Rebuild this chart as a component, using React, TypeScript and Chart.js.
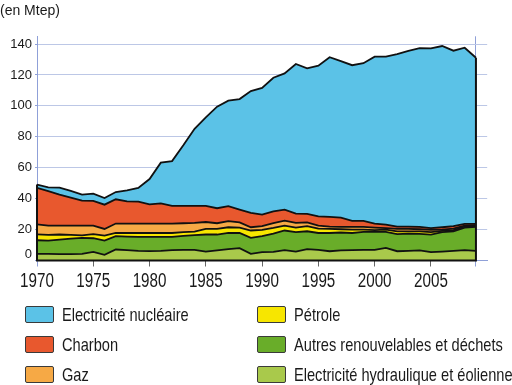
import React, { useEffect, useRef } from 'react';
import { Chart, registerables } from 'chart.js';

Chart.register(...registerables);

// ---- Data (Mtep) ----
const years = [
  1970, 1971, 1972, 1973, 1974, 1975, 1976, 1977, 1978, 1979,
  1980, 1981, 1982, 1983, 1984, 1985, 1986, 1987, 1988, 1989,
  1990, 1991, 1992, 1993, 1994, 1995, 1996, 1997, 1998, 1999,
  2000, 2001, 2002, 2003, 2004, 2005, 2006, 2007, 2008, 2009,
];

const hydraulique = [
  4.3, 4.3, 4.1, 4.1, 4.3, 5.6, 3.7, 7.1, 6.7, 6.2,
  6.0, 6.2, 6.7, 6.9, 6.9, 5.8, 6.5, 7.3, 8.0, 4.3,
  5.4, 5.6, 6.7, 5.8, 7.3, 6.9, 6.0, 6.5, 6.7, 6.9,
  6.9, 8.2, 6.0, 6.2, 6.5, 5.4, 5.8, 6.2, 6.7, 6.2,
];

const autresRenouvelables = [
  8.8, 8.6, 9.4, 10.1, 10.3, 8.8, 9.2, 8.6, 8.8, 9.1,
  9.3, 9.1, 8.6, 9.0, 9.5, 11.0, 10.3, 10.5, 9.8, 10.3,
  10.3, 11.8, 12.7, 12.5, 11.6, 10.9, 11.8, 11.6, 11.1, 11.6,
  11.6, 10.3, 11.0, 11.2, 10.7, 11.4, 12.5, 12.7, 14.6, 15.5,
];

const petrole = [
  3.8, 3.7, 3.3, 2.4, 1.7, 2.6, 3.2, 2.1, 2.3, 2.5,
  2.5, 2.5, 2.5, 2.4, 2.3, 3.6, 3.6, 3.7, 3.5, 4.8,
  4.1, 3.7, 3.2, 3.0, 3.3, 2.8, 2.6, 2.1, 2.2, 1.5,
  1.1, 1.5, 1.9, 1.5, 1.7, 1.5, 0.8, 0.7, 0.7, 0.5,
];

const gaz = [
  6.5, 6.0, 5.8, 6.0, 6.3, 5.6, 4.3, 6.1, 6.1, 6.1,
  6.1, 6.1, 6.1, 5.8, 5.6, 4.5, 3.7, 3.9, 3.4, 2.1,
  2.4, 3.0, 3.2, 3.0, 2.5, 2.0, 1.5, 1.5, 1.7, 1.7,
  1.7, 0.9, 1.5, 1.5, 1.3, 1.5, 0.9, 1.0, 0.6, 0.6,
];

const charbon = [
  23.6, 22.2, 20.0, 18.0, 16.1, 15.9, 15.7, 15.7, 14.4, 14.2,
  12.4, 13.1, 11.4, 11.2, 11.0, 10.4, 9.7, 9.7, 8.2, 9.3,
  7.5, 7.7, 7.1, 6.0, 5.4, 6.0, 6.3, 6.0, 3.9, 3.9,
  2.6, 2.3, 1.5, 1.5, 1.5, 1.1, 1.5, 1.6, 1.1, 0.9,
];

const nucleaire = [
  2.1, 2.5, 4.5, 4.4, 3.9, 4.7, 4.3, 4.7, 7.1, 8.8,
  16.4, 26.3, 29.0, 39.2, 49.9, 57.3, 65.7, 68.3, 71.5, 78.8,
  81.9, 86.4, 88.1, 96.8, 94.2, 97.4, 103.3, 101.3, 100.7, 102.0,
  107.9, 108.6, 111.6, 113.6, 115.7, 116.3, 117.2, 113.5, 113.9, 107.4,
];

const xTickYears = [1970, 1975, 1980, 1985, 1990, 1995, 2000, 2005];
const yTickValues = [0, 20, 40, 60, 80, 100, 120, 140];

const unitLabel = '(en Mtep)';

// series, bottom to top of the stack
const series = [
  { label: 'Electricité hydraulique et éolienne', values: hydraulique, color: '#a9c94b' },
  { label: 'Autres renouvelables et déchets', values: autresRenouvelables, color: '#69ad29' },
  { label: 'Pétrole', values: petrole, color: '#f7e600' },
  { label: 'Gaz', values: gaz, color: '#f6a945' },
  { label: 'Charbon', values: charbon, color: '#e8582e' },
  { label: 'Electricité nucléaire', values: nucleaire, color: '#5bc2e7' },
];

// legend: first column top to bottom, then second column
const legendOrder = [
  'Electricité nucléaire',
  'Charbon',
  'Gaz',
  'Pétrole',
  'Autres renouvelables et déchets',
  'Electricité hydraulique et éolienne',
];

const AXIS_BLUE = '#8fa0d8';
const GRID_BLUE = '#bcc7e6';
const TEXT = '#1a1a1a';

const edgePlugin = {
  id: 'stackEdges',
  afterDatasetsDraw(chart: any) {
    const n = chart.data.datasets.length;
    const pts = chart.getDatasetMeta(n - 1).data;
    if (!pts || !pts.length) return;
    const y0 = chart.scales.y.getPixelForValue(0);
    const first = pts[0];
    const last = pts[pts.length - 1];
    const ctx = chart.ctx;
    ctx.save();
    ctx.strokeStyle = '#111';
    ctx.lineWidth = 2;
    ctx.beginPath();
    ctx.moveTo(first.x, first.y);
    ctx.lineTo(first.x, y0);
    ctx.lineTo(last.x, y0);
    ctx.lineTo(last.x, last.y);
    ctx.stroke();
    ctx.restore();
  },
};

// x tick labels in a condensed style (horizontally compressed)
const xLabelPlugin = {
  id: 'condensedXLabels',
  afterDraw(chart: any) {
    const xs = chart.scales.x;
    const ctx = chart.ctx;
    const base = chart.chartArea.bottom + 26;
    ctx.save();
    ctx.font = "20px 'Liberation Sans', Arial, sans-serif";
    ctx.fillStyle = TEXT;
    ctx.textAlign = 'center';
    ctx.textBaseline = 'alphabetic';
    for (const yr of xTickYears) {
      const px = xs.getPixelForValue(yr);
      ctx.save();
      ctx.translate(px, base);
      ctx.scale(0.76, 1);
      ctx.fillText(String(yr), 0, 0);
      ctx.restore();
    }
    ctx.restore();
  },
};

export default function App() {
  const canvasRef = useRef<HTMLCanvasElement | null>(null);

  useEffect(() => {
    const canvas = canvasRef.current;
    if (!canvas) return;
    const lastYear = years[years.length - 1];
    const chart = new Chart(canvas, {
      type: 'line',
      data: {
        datasets: series.map((s, i) => ({
          label: s.label,
          data: years.map((yr, j) => ({ x: yr, y: s.values[j] })),
          backgroundColor: s.color,
          borderColor: '#111',
          borderWidth: 1.8,
          pointRadius: 0,
          pointHoverRadius: 0,
          tension: 0,
          fill: i === 0 ? 'origin' : '-1',
        })),
      },
      options: {
        responsive: false,
        animation: false,
        events: [],
        layout: { padding: { left: 0, right: 24.8, top: 36.3, bottom: 0 } },
        plugins: {
          legend: { display: false },
          tooltip: { enabled: false },
          title: { display: false },
        },
        scales: {
          x: {
            type: 'linear',
            min: 1970,
            max: 2010,
            afterBuildTicks: (scale: any) => {
              scale.ticks = [...xTickYears, lastYear].map((v) => ({ value: v }));
            },
            afterFit: (scale: any) => {
              scale.height = 124.5;
            },
            ticks: {
              autoSkip: false,
              maxRotation: 0,
              callback: () => '',
            },
            grid: {
              drawOnChartArea: true,
              drawTicks: true,
              tickLength: 6,
              lineWidth: 1,
              color: (ctx: any) => (ctx.tick && ctx.tick.value === lastYear ? AXIS_BLUE : 'rgba(0,0,0,0)'),
              tickColor: (ctx: any) =>
                ctx.tick && (ctx.tick.value === 1970 || ctx.tick.value === lastYear) ? AXIS_BLUE : '#666',
            },
            border: { display: true, color: AXIS_BLUE, width: 1 },
          },
          y: {
            stacked: true,
            min: 0,
            max: 145,
            afterBuildTicks: (scale: any) => {
              scale.ticks = yTickValues.map((v) => ({ value: v }));
            },
            afterFit: (scale: any) => {
              scale.width = 37;
            },
            ticks: {
              padding: 3,
              color: TEXT,
              font: { family: "'Liberation Sans', Arial, sans-serif", size: 13, lineHeight: 1 },
              callback: (v: any) => (Number(v) === 0 ? ['0', ''] : String(v)),
            },
            grid: {
              color: GRID_BLUE,
              lineWidth: 1,
              tickLength: 2,
              tickColor: AXIS_BLUE,
            },
            border: { display: true, color: AXIS_BLUE, width: 1 },
          },
        },
      },
      plugins: [edgePlugin, xLabelPlugin],
    } as any);
    return () => chart.destroy();
  }, []);

  const colorOf = (label: string) => series.find((s) => s.label === label)?.color || '#000';

  return (
    <div style={{ position: 'absolute', left: 0, top: 0, width: 512, height: 385, background: '#fff', overflow: 'hidden' }}>
      <canvas
        ref={canvasRef}
        width={512}
        height={385}
        style={{ position: 'absolute', left: 0, top: 0, width: 512, height: 385 }}
      />
      <div
        style={{
          position: 'absolute',
          left: 0,
          top: 2,
          fontFamily: "'Liberation Sans', Arial, sans-serif",
          fontSize: 14,
          lineHeight: '16px',
          color: TEXT,
          whiteSpace: 'nowrap',
        }}
      >
        {unitLabel}
      </div>
      {legendOrder.map((label, idx) => {
        const col = Math.floor(idx / 3);
        const row = idx % 3;
        const cy = 314 + row * 30;
        return (
          <React.Fragment key={label}>
            <div
              style={{
                position: 'absolute',
                left: 25 + col * 232,
                top: cy - 8.5,
                width: 27,
                height: 15,
                background: colorOf(label),
                border: '1px solid #3a3a3a',
                borderRadius: 2,
              }}
            />
            <div
              style={{
                position: 'absolute',
                left: 62 + col * 232,
                top: cy - 10.5,
                fontFamily: "'Liberation Sans', Arial, sans-serif",
                fontSize: 18.5,
                lineHeight: '21px',
                color: TEXT,
                whiteSpace: 'nowrap',
                transform: 'scaleX(0.79)',
                transformOrigin: 'left center',
              }}
            >
              {label}
            </div>
          </React.Fragment>
        );
      })}
    </div>
  );
}
